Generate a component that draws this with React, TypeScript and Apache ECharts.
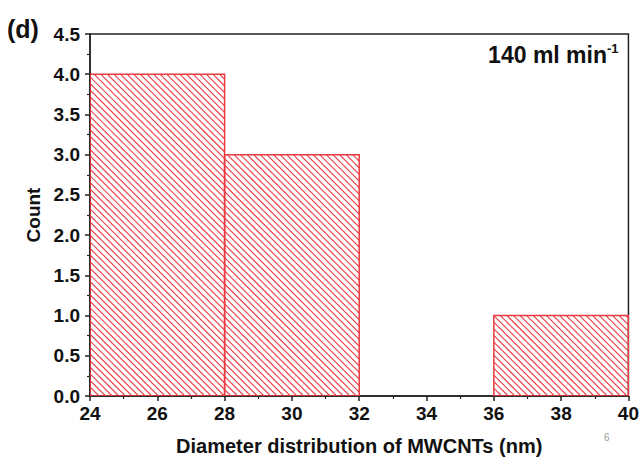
import React, { useEffect, useRef } from "react";
import * as echarts from "echarts";

const binStarts = [24, 28, 32, 36];
const binEnds = [28, 32, 36, 40];
const counts = [4, 3, 0, 1];
const xTicks = [24, 26, 28, 30, 32, 34, 36, 38, 40];
const yTicks = [0, 0.5, 1, 1.5, 2, 2.5, 3, 3.5, 4, 4.5];

const RED = "#ea3a40";
const FONT = "'Liberation Sans', Arial, sans-serif";

export default function App() {
  const ref = useRef<HTMLDivElement>(null);
  useEffect(() => {
    if (!ref.current) return;
    const chart = echarts.init(ref.current, null, { renderer: "svg" });
    const data = binStarts.map((s, i) => [s, binEnds[i], counts[i]]);
    const step = 6.6;
    chart.setOption({
      animation: false,
      backgroundColor: "#ffffff",
      color: [RED],
      grid: {
        left: 90,
        right: 13,
        top: 34,
        bottom: 60,
        show: true,
        borderColor: "#222",
        borderWidth: 1.5,
        backgroundColor: "transparent",
      },
      xAxis: {
        type: "value",
        min: xTicks[0],
        max: xTicks[xTicks.length - 1],
        interval: 2,
        name: "Diameter distribution of MWCNTs (nm)",
        nameLocation: "middle",
        nameGap: 40,
        nameTextStyle: { fontFamily: FONT, fontWeight: "bold", fontSize: 20, color: "#111" },
        axisLine: { show: true, lineStyle: { color: "#222", width: 1.5 } },
        axisTick: { show: true, inside: false, length: 5, lineStyle: { color: "#222", width: 1.5 } },
        minorTick: { show: true, splitNumber: 2, length: 3, lineStyle: { color: "#222", width: 1.2 } },
        splitLine: { show: false },
        axisLabel: { fontFamily: FONT, fontWeight: "bold", fontSize: 19, color: "#111", margin: 8 },
      },
      yAxis: {
        type: "value",
        min: yTicks[0],
        max: yTicks[yTicks.length - 1],
        interval: 0.5,
        name: "Count",
        nameLocation: "middle",
        nameGap: 40,
        nameTextStyle: { fontFamily: FONT, fontWeight: "bold", fontSize: 19, color: "#111" },
        axisLine: { show: true, lineStyle: { color: "#222", width: 1.5 } },
        axisTick: { show: true, inside: false, length: 5, lineStyle: { color: "#222", width: 1.5 } },
        minorTick: { show: true, splitNumber: 2, length: 3, lineStyle: { color: "#222", width: 1.2 } },
        splitLine: { show: false },
        axisLabel: {
          fontFamily: FONT,
          fontWeight: "bold",
          fontSize: 19,
          color: "#111",
          margin: 10,
          formatter: (v: number) => v.toFixed(1),
        },
      },
      series: [
        {
          type: "custom",
          data,
          encode: { x: [0, 1], y: 2 },
          itemStyle: { color: RED },
          clip: true,
          renderItem: (params: any, api: any) => {
            const x0 = api.value(0);
            const x1 = api.value(1);
            const y = api.value(2);
            if (!y) return null;
            const p0 = api.coord([x0, y]);
            const p1 = api.coord([x1, 0]);
            const L = p0[0], T = p0[1], R = p1[0], B = p1[1];
            const children: any[] = [];
            const cStart = Math.ceil((L - B) / step) * step;
            for (let c = cStart; c <= R - T; c += step) {
              const xa = Math.max(L, T + c);
              const xb = Math.min(R, B + c);
              if (xb - xa < 0.5) continue;
              children.push({
                type: "line",
                shape: { x1: xa, y1: xa - c, x2: xb, y2: xb - c },
                style: { stroke: RED, fill: "none", lineWidth: 1.1 },
              });
            }
            children.push({
              type: "rect",
              shape: { x: L, y: T, width: R - L, height: B - T },
              style: { fill: "none", stroke: RED, lineWidth: 1.5 },
            });
            return { type: "group", children };
          },
        },
      ],
      graphic: [
        {
          type: "text",
          left: 7,
          top: 16,
          style: { text: "(d)", fontFamily: FONT, fontWeight: "bold", fontSize: 25, fill: "#111" },
        },
        {
          type: "text",
          right: 35,
          top: 43,
          style: { text: "140 ml min", fontFamily: FONT, fontWeight: "bold", fontSize: 23, fill: "#111" },
        },
        {
          type: "text",
          left: 607,
          top: 42,
          style: { text: "-1", fontFamily: FONT, fontWeight: "bold", fontSize: 13, fill: "#111" },
        },
        {
          type: "text",
          left: 604,
          top: 432,
          style: { text: "6", fontFamily: FONT, fontSize: 10, fill: "#999" },
        },
      ],
    });
    return () => chart.dispose();
  }, []);
  return <div ref={ref} style={{ width: 642, height: 461, position: "absolute", left: 0, top: 0 }} />;
}
